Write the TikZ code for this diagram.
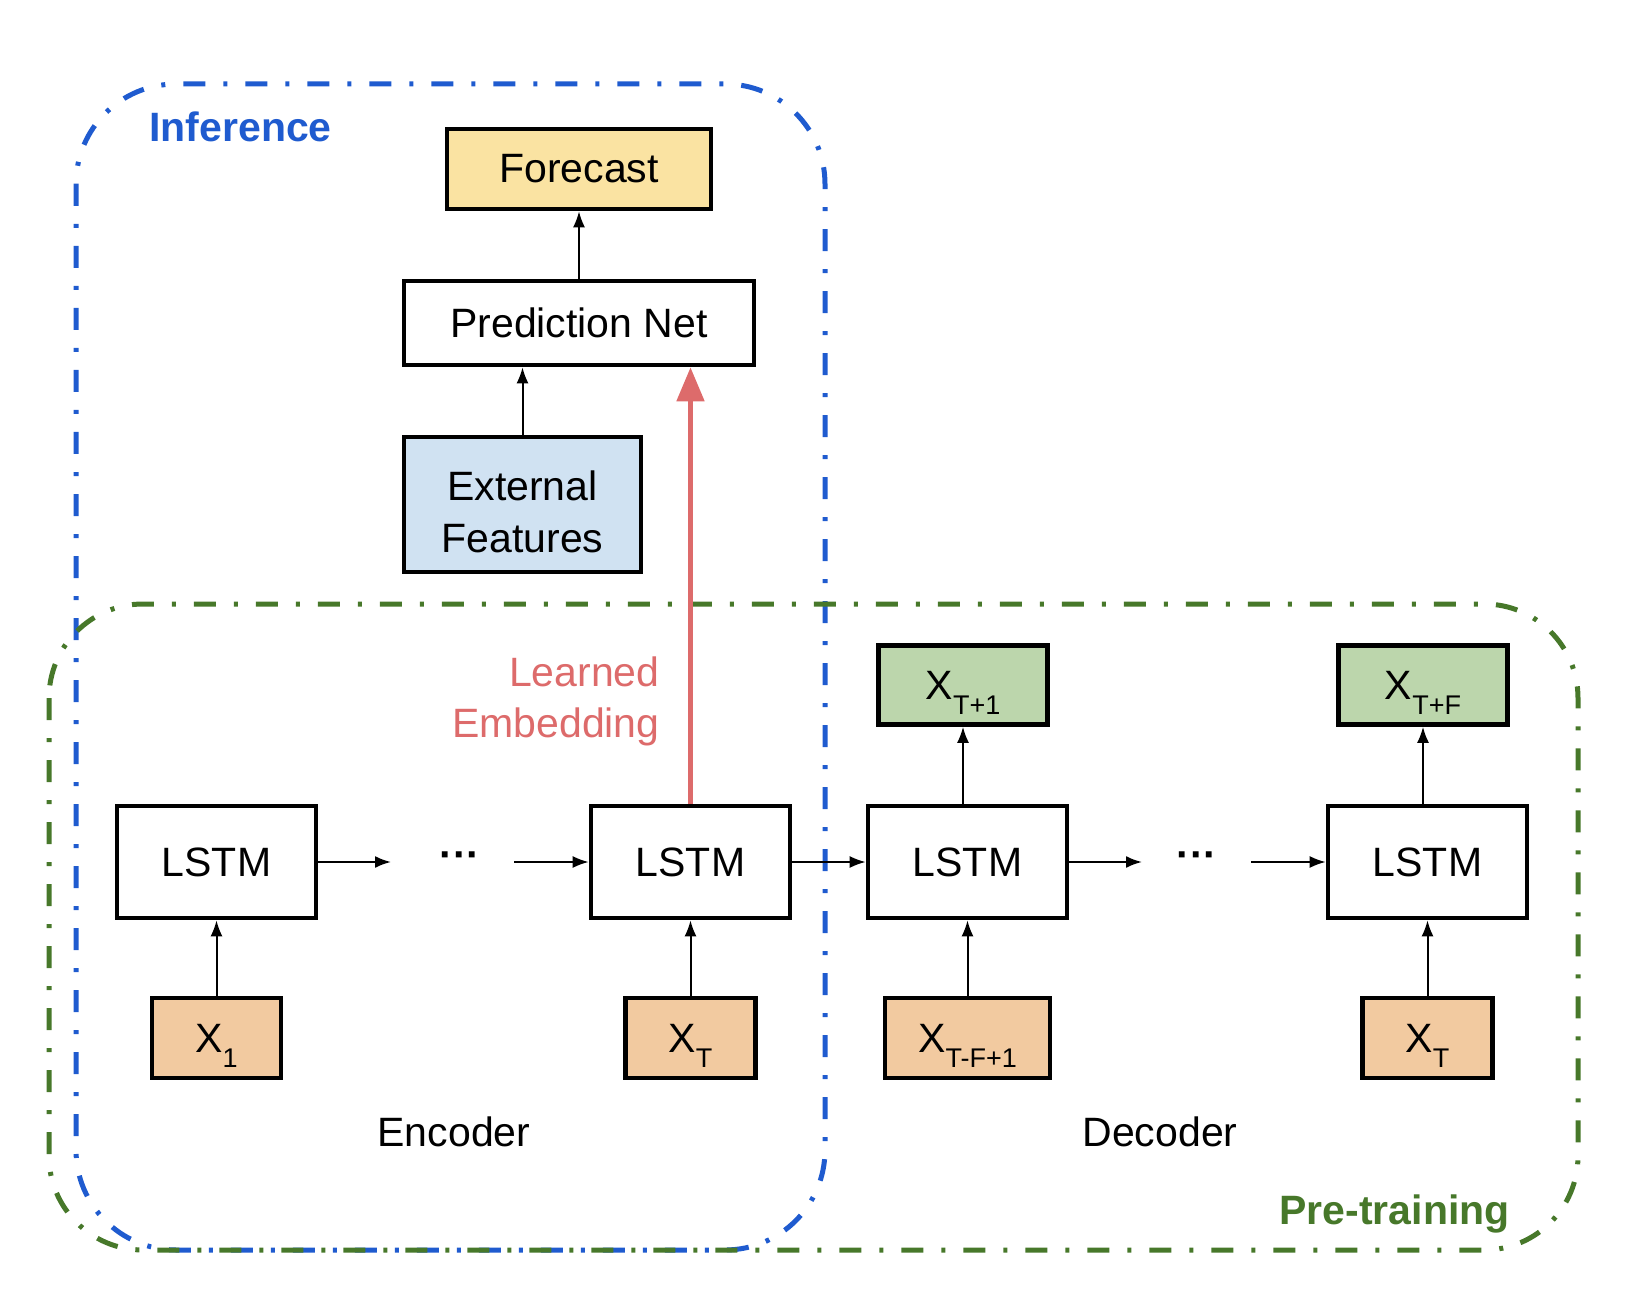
\documentclass[tikz,border=0pt]{standalone}
\usepackage{fontspec}
\setmainfont{Liberation Sans}
\usepackage{tikz}
\usetikzlibrary{shapes,arrows.meta,positioning}

\definecolor{infblue}{HTML}{1F5BCF}
\definecolor{pregreen}{HTML}{47782A}
\definecolor{embred}{HTML}{DD6B6B}
\definecolor{fcyellow}{HTML}{FAE3A2}
\definecolor{featblue}{HTML}{D0E2F2}
\definecolor{outgreen}{HTML}{BCD6AC}
\definecolor{ingold}{HTML}{F2CAA0}

\tikzstyle{block} = [rectangle, draw, line width=2.3pt, inner sep=0pt,
text centered, font=\fontsize{20.5}{25.75}\selectfont]
\tikzstyle{lstm} = [block, minimum width=99.5pt, minimum height=56pt]
\tikzstyle{inbox} = [block, fill=ingold, minimum height=40pt]
\tikzstyle{outbox} = [block, fill=outgreen, minimum height=39.5pt]
\tikzstyle{caption} = [inner sep=0pt, font=\fontsize{20.5}{25.75}\selectfont]
\tikzstyle{line} = [draw, line width=1pt, -{Latex[length=8pt,width=6pt]}]
\tikzstyle{embline} = [draw, embred, line width=2.5pt, -{Triangle[length=17pt,width=13.5pt]}]
\tikzstyle{region} = [line width=2.5pt, dash pattern=on 11pt off 9pt on 2pt off 9pt]

\newcommand{\lowtxt}[1]{\raisebox{-7.5pt}[0pt][0pt]{\fontsize{13.5}{13.5}\selectfont #1}}

\begin{document}
\begin{tikzpicture}[x=0.5pt, y=-0.5pt, node distance=88pt]
	\useasboundingbox (0,0) rectangle (1640,1300);

	% Regions
	\draw [region, infblue, rounded corners=50pt] (76,84) rectangle (825,1250);
	\draw [region, pregreen, rounded corners=47pt] (49,604) rectangle (1578,1250);
	\node [caption, anchor=base west, text=infblue, font=\bfseries\fontsize{20.5}{25.75}\selectfont] (inflabel) at (149,142) {Inference};
	\node [caption, anchor=base east, text=pregreen, font=\bfseries\fontsize{20.5}{25.75}\selectfont] (prelabel) at (1510,1224) {Pre-training};

	% Place nodes
	\node [block, fill=white, minimum width=175pt, minimum height=42pt] (pred) at (579,323) {Prediction Net};
	\node [block, fill=fcyellow, minimum width=132pt, minimum height=40pt, above of=pred, node distance=77pt] (fcst) {Forecast};
	\node [block, fill=featblue, minimum width=118.5pt, minimum height=67.5pt, align=center] (feat) at (522.5,504.5) {\rule{0pt}{22.4pt}External\\Features};
	\path [line] (pred) -- (fcst);
	\path [line] (feat.north) -- (feat.north |- pred.south);

	% Encoder
	\node [lstm] (lstm1) at (216.5,862) {LSTM};
	\node [lstm] (lstm2) at (690.5,862) {LSTM};
	\node [inbox, below of=lstm1, minimum width=64.5pt] (xin1) {X\lowtxt{1}};
	\node [inbox, below of=lstm2, minimum width=65pt] (xinT) {X\lowtxt{T}};
	\node [caption, font=\bfseries\fontsize{20.5}{25.75}\selectfont] (dots1) at (460,860) {···};
	\coordinate (enca) at (391,862);
	\coordinate (encb) at (514,862);
	\path [line] (xin1) -- (lstm1);
	\path [line] (xinT) -- (lstm2);
	\path [line] (lstm1) -- (enca);
	\path [line] (encb) -- (lstm2);
	\node [caption, anchor=base] (enclabel) at (454,1146) {Encoder};

	% Decoder
	\node [lstm] (lstm3) at (967.5,862) {LSTM};
	\node [lstm] (lstm4) at (1427.5,862) {LSTM};
	\node [inbox, below of=lstm3, minimum width=82.5pt] (xinTF) {X\lowtxt{T-F+1}};
	\node [inbox, below of=lstm4, minimum width=65pt] (xinT2) {X\lowtxt{T}};
	\node [outbox, above of=lstm3, node distance=88.5pt, xshift=-2.25pt, minimum width=84.75pt] (xout1) {X\lowtxt{T+1}};
	\node [outbox, above of=lstm4, node distance=88.5pt, xshift=-2.25pt, minimum width=84.3pt] (xoutF) {X\lowtxt{T+F}};
	\node [caption, font=\bfseries\fontsize{20.5}{25.75}\selectfont] (dots2) at (1197,860) {···};
	\coordinate (deca) at (1142,862);
	\coordinate (decb) at (1251,862);
	\path [line] (lstm2) -- (lstm3);
	\path [line] (lstm3) -- (deca);
	\path [line] (decb) -- (lstm4);
	\path [line] (xinTF) -- (lstm3);
	\path [line] (xinT2) -- (lstm4);
	\path [line] (lstm3.north -| xout1) -- (xout1);
	\path [line] (lstm4.north -| xoutF) -- (xoutF);
	\node [caption, anchor=base] (declabel) at (1160,1146) {Decoder};

	% Learned embedding
	\path [embline] (lstm2.north) -- (lstm2.north |- pred.south);
	\node [caption, anchor=base east, text=embred, align=right] (emblabel) at (660,737.5) {Learned\\Embedding};
\end{tikzpicture}
\end{document}
